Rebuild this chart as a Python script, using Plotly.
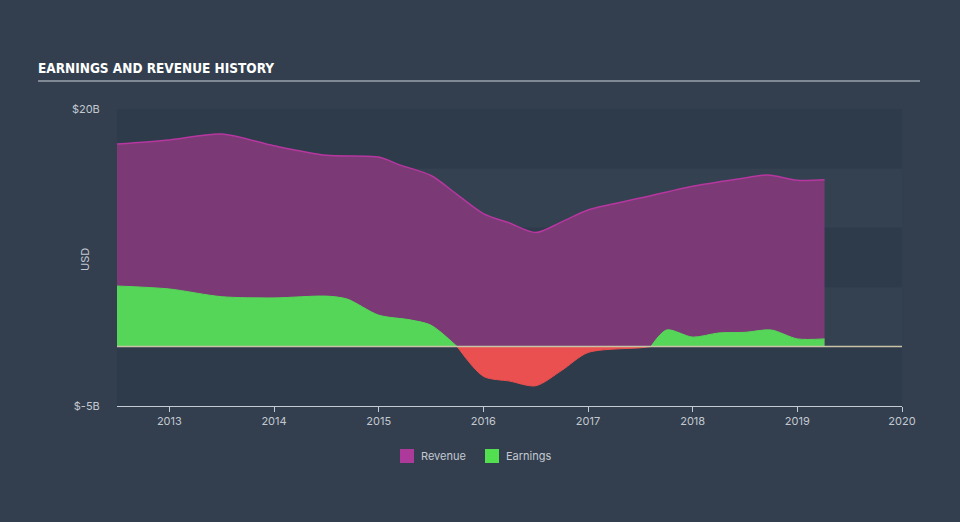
import plotly.graph_objects as go

# ---- data (billions USD) ----
rev_years = [2012.5, 2013.0, 2013.5, 2014.0, 2014.5, 2015.0, 2015.2, 2015.5, 2015.75,
             2016.0, 2016.25, 2016.5, 2016.75, 2017.0, 2017.5, 2018.0, 2018.5,
             2018.72, 2019.0, 2019.26]
rev_values = [17.05, 17.4, 17.9, 16.9, 16.1, 15.95, 15.3, 14.4, 12.8,
              11.2, 10.4, 9.6, 10.5, 11.5, 12.5, 13.5, 14.2,
              14.45, 14.0, 14.05]

earn_years = [2012.5, 2013.0, 2013.5, 2014.0, 2014.5, 2014.7, 2015.0, 2015.3, 2015.5,
              2015.75, 2016.0, 2016.25, 2016.5, 2016.75, 2017.0, 2017.5, 2017.6,
              2017.75, 2018.0, 2018.25, 2018.5, 2018.75, 2019.0, 2019.26]
earn_values = [5.1, 4.85, 4.2, 4.1, 4.25, 4.0, 2.65, 2.25, 1.8,
               0.0, -2.5, -2.9, -3.3, -2.0, -0.5, -0.1, 0.0,
               1.4, 0.8, 1.15, 1.2, 1.4, 0.65, 0.65]

x_ticks = [2013, 2014, 2015, 2016, 2017, 2018, 2019, 2020]
y_ticks = [-5, 20]
y_ticktext = ["$-5B", "$20B"]
legend_names = ["Revenue", "Earnings"]

# ---- styles ----
BG = "#333f4f"
PLOT_BG = "#2e3b4b"
LIGHT_BAND = "#344150"
REV_FILL = "#7b3a75"
REV_LINE = "#b5379f"
REV_LEG = "#ad3a9b"
EARN_POS = "#55d658"
EARN_LEG = "#52e050"
EARN_NEG = "#e9504f"
TXT = "#c3c9cf"

L, R, T, B = 117, 58, 109, 116
PW, PH = 960 - L - R, 522 - T - B


def px_x(p):
    return (p - L) / PW


def px_y(p):
    return (522 - B - p) / PH


fig = go.Figure()

fig.add_trace(go.Scatter(
    x=rev_years, y=rev_values, name="Revenue", mode="lines",
    line=dict(color=REV_LINE, width=1.5, shape="spline", smoothing=0.8),
    fill="tozeroy", fillcolor=REV_FILL, showlegend=False,
))

# split earnings into sign segments (zero points included in data)
segments = []
cur = [[earn_years[0]], [earn_values[0]]]
for i in range(1, len(earn_years)):
    cur[0].append(earn_years[i]); cur[1].append(earn_values[i])
    if earn_values[i] == 0 and i < len(earn_years) - 1:
        segments.append(cur)
        cur = [[earn_years[i]], [earn_values[i]]]
segments.append(cur)

for xs, ys in segments:
    neg = sum(ys) < 0
    fig.add_trace(go.Scatter(
        x=xs, y=ys, mode="lines", name="Earnings",
        line=dict(color=EARN_NEG if neg else EARN_POS, width=1, shape="spline", smoothing=0.8),
        fill="tozeroy", fillcolor=EARN_NEG if neg else EARN_POS, showlegend=False,
    ))

# background bands
shapes = []
for lo, hi in [(10, 15), (0, 5)]:
    shapes.append(dict(type="rect", xref="paper", yref="y", x0=0, x1=1, y0=lo, y1=hi,
                       fillcolor=LIGHT_BAND, line=dict(width=0), layer="below"))
# zero line
shapes.append(dict(type="line", xref="paper", yref="y", x0=0, x1=1, y0=0, y1=0,
                   line=dict(color="#c9c3a6", width=1.5), layer="above"))
# title underline
shapes.append(dict(type="line", xref="paper", yref="paper", x0=px_x(38), x1=px_x(920),
                   y0=px_y(81), y1=px_y(81), line=dict(color="#9aa3ad", width=1.5)))

annotations = [dict(text="USD", xref="paper", yref="paper", x=px_x(76), y=px_y(260),
                    textangle=-90, showarrow=False, font=dict(size=11, color=TXT))]

# manual legend (square swatches)
for (nm, col, sx) in zip(legend_names, [REV_LEG, EARN_LEG], [400, 485]):
    shapes.append(dict(type="rect", xref="paper", yref="paper",
                       x0=px_x(sx), x1=px_x(sx + 14), y0=px_y(463), y1=px_y(449),
                       fillcolor=col, line=dict(width=0)))
    annotations.append(dict(text=nm, xref="paper", yref="paper", x=px_x(sx + 19), y=px_y(456),
                            xanchor="left", yanchor="middle", showarrow=False,
                            font=dict(size=11, color=TXT)))

fig.update_layout(
    width=960, height=522,
    margin=dict(l=L, r=R, t=T, b=B),
    paper_bgcolor=BG, plot_bgcolor=PLOT_BG,
    font=dict(family="Inter, Roboto, sans-serif", size=11, color=TXT),
    title=dict(text="<b>EARNINGS AND REVENUE HISTORY</b>", xref="container", yref="container",
               x=38/960, xanchor="left", y=1-68/522, yanchor="middle",
               font=dict(family="DejaVu Sans Condensed, Liberation Sans Narrow, sans-serif",
                         size=13.5, color="#ffffff")),
    shapes=shapes,
    annotations=annotations,
    showlegend=False,
)

fig.update_xaxes(range=[2012.5, 2020.0], tickvals=x_ticks, ticktext=[str(v) for v in x_ticks],
                 showgrid=False, zeroline=False, showline=True, linecolor="#c3cbd3", linewidth=1,
                 ticks="outside", ticklen=5, tickcolor="#c3cbd3", tickfont=dict(size=11, color=TXT))
fig.update_yaxes(range=[-5, 20], tickvals=y_ticks, ticktext=y_ticktext, showgrid=False,
                 zeroline=False, showline=False, ticks="outside", ticklen=14,
                 tickcolor="rgba(0,0,0,0)", tickfont=dict(size=11, color=TXT))

fig.write_html("out.html")
